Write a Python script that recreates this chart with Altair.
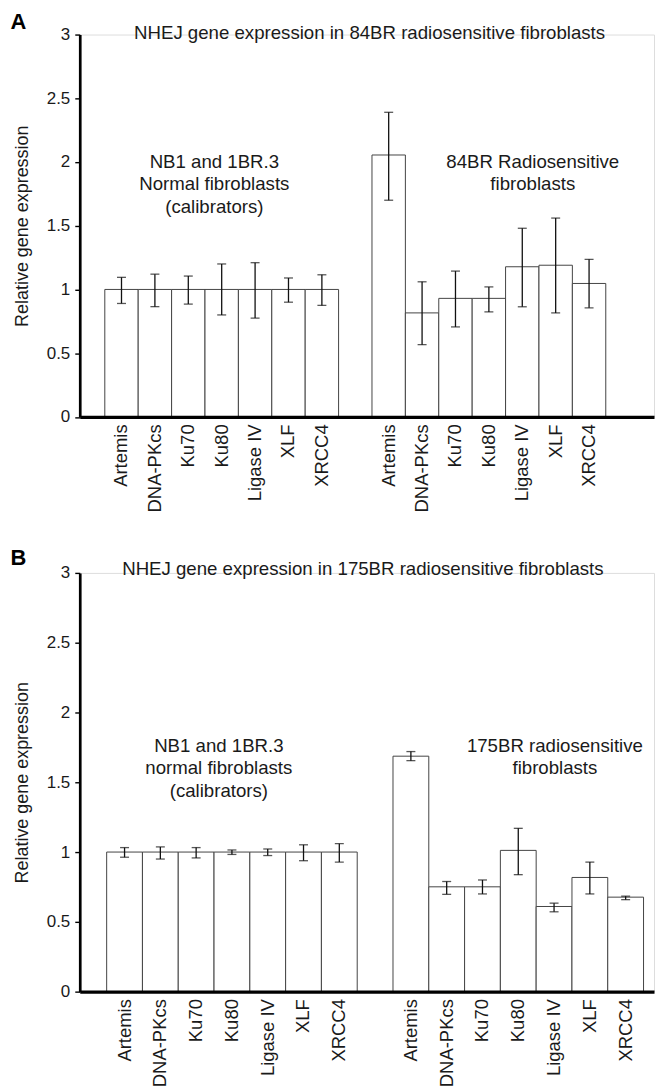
import altair as alt
import pandas as pd

genes = ["Artemis", "DNA-PKcs", "Ku70", "Ku80", "Ligase IV", "XLF", "XRCC4"]
y_ticks = [0, 0.5, 1, 1.5, 2, 2.5, 3]

# Panel A: 84BR
a_norm_val = [1.0, 1.0, 1.0, 1.0, 1.0, 1.0, 1.0]
a_norm_hi = [1.095, 1.12, 1.105, 1.20, 1.21, 1.09, 1.115]
a_norm_lo = [0.89, 0.865, 0.885, 0.80, 0.775, 0.90, 0.875]
a_rs_val = [2.055, 0.816, 0.93, 0.93, 1.178, 1.19, 1.047]
a_rs_hi = [2.39, 1.06, 1.144, 1.02, 1.48, 1.56, 1.236]
a_rs_lo = [1.70, 0.567, 0.706, 0.824, 0.864, 0.816, 0.856]

# Panel B: 175BR
b_norm_val = [1.0, 1.0, 1.0, 1.0, 1.0, 1.0, 1.0]
b_norm_hi = [1.032, 1.037, 1.032, 1.015, 1.022, 1.052, 1.06]
b_norm_lo = [0.963, 0.95, 0.958, 0.983, 0.975, 0.938, 0.928]
b_rs_val = [1.687, 0.751, 0.751, 1.012, 0.61, 0.818, 0.677]
b_rs_hi = [1.72, 0.789, 0.80, 1.17, 0.634, 0.928, 0.684]
b_rs_lo = [1.655, 0.697, 0.70, 0.838, 0.572, 0.70, 0.659]

a_title = "NHEJ gene expression in 84BR radiosensitive fibroblasts"
b_title = "NHEJ gene expression in 175BR radiosensitive fibroblasts"
a_left_note = ["NB1 and 1BR.3", "Normal fibroblasts", "(calibrators)"]
a_left_y = [2.0, 1.825, 1.65]
a_right_note = ["84BR Radiosensitive", "fibroblasts"]
a_right_y = [2.0, 1.825]
b_left_note = ["NB1 and 1BR.3", "normal fibroblasts", "(calibrators)"]
b_left_y = [1.76, 1.60, 1.44]
b_right_note = ["175BR radiosensitive", "fibroblasts"]
b_right_y = [1.76, 1.60]

FONT = "Liberation Sans"
TXT = "#1a1a1a"
YTITLE = "Relative gene expression"

keys_b = [g + "|n" for g in genes] + ["|gap"] + [g + "|r" for g in genes]
keys_a = keys_b + ["|end"]


def panel(letter, title, nv, nh, nl, rv, rh, rl, lnote, ly, rnote, ry,
          keys, width, height, pad_outer, align, letter_xy, title_xy, lx, rx):
    df = pd.DataFrame({
        "key": [g + "|n" for g in genes] + [g + "|r" for g in genes],
        "val": nv + rv,
        "hi": nh + rh,
        "lo": nl + rl,
    })
    xscale = alt.Scale(domain=keys, paddingInner=0, paddingOuter=pad_outer, align=align)
    yscale = alt.Scale(domain=[0, 3], nice=False, zero=True)
    xaxis = alt.Axis(title=None, ticks=False, labelAngle=270,
                     labelExpr="split(datum.value, '|')[0]",
                     labelFont=FONT, labelFontSize=18.5, labelColor=TXT,
                     labelPadding=7, labelOverlap=False, labelLimit=300,
                     domainColor="#000000", domainWidth=3.3, zindex=2)
    yaxis = alt.Axis(values=y_ticks, format="~g", grid=False,
                     title=YTITLE, titleFont=FONT, titleFontSize=18,
                     titleFontWeight="normal", titleColor=TXT,
                     titleX=-57, titleY=height / 2, titleAngle=270,
                     titleAlign="center", titleBaseline="middle",
                     labelFont=FONT, labelFontSize=17, labelColor=TXT,
                     labelPadding=5, tickSize=5, tickColor="#000000",
                     tickWidth=1.4, domainColor="#000000", domainWidth=2.7,
                     zindex=2)
    base = alt.Chart(df)
    X = alt.X("key:N", scale=xscale, axis=xaxis)
    bars = base.mark_bar(fill="white", stroke="#444444", strokeWidth=1).encode(
        x=X, y=alt.Y("val:Q", scale=yscale, axis=yaxis, title=YTITLE))
    err = base.mark_rule(color="#111111", strokeWidth=1.3).encode(
        x=X, y=alt.Y("lo:Q", scale=yscale, title=YTITLE), y2="hi:Q")
    cap_hi = base.mark_tick(color="#111111", thickness=1.3, size=9).encode(
        x=X, y=alt.Y("hi:Q", scale=yscale, title=YTITLE))
    cap_lo = base.mark_tick(color="#111111", thickness=1.3, size=9).encode(
        x=X, y=alt.Y("lo:Q", scale=yscale, title=YTITLE))

    def note(lines, ys, xpx):
        d = pd.DataFrame({"t": lines, "val": ys})
        return alt.Chart(d).mark_text(font=FONT, fontSize=18.7, color=TXT,
                                      align="center", baseline="middle").encode(
            x=alt.value(xpx), y=alt.Y("val:Q", scale=yscale, title=YTITLE), text="t:N")

    tdf = pd.DataFrame({"t": [title]})
    ttl = alt.Chart(tdf).mark_text(font=FONT, fontSize=18.7, color=TXT,
                                   align="center", baseline="middle").encode(
        x=alt.value(title_xy[0]), y=alt.value(title_xy[1]), text="t:N")
    ldf = pd.DataFrame({"t": [letter]})
    let = alt.Chart(ldf).mark_text(font=FONT, fontSize=22, fontWeight="bold",
                                   color="#000000", align="center",
                                   baseline="middle").encode(
        x=alt.value(letter_xy[0]), y=alt.value(letter_xy[1]), text="t:N")

    return alt.layer(bars, err, cap_hi, cap_lo,
                     note(lnote, ly, lx), note(rnote, ry, rx), ttl, let).properties(
        width=width, height=height)


pa = panel("A", a_title, a_norm_val, a_norm_hi, a_norm_lo, a_rs_val, a_rs_hi, a_rs_lo,
           a_left_note, a_left_y, a_right_note, a_right_y,
           keys_a, 576, 383.5, 0.597, 0.628, (-61.5, -13), (290.7, -2), 135, 454.4)
pb = panel("B", b_title, b_norm_val, b_norm_hi, b_norm_lo, b_rs_val, b_rs_hi, b_rs_lo,
           b_left_note, b_left_y, b_right_note, b_right_y,
           keys_b, 576, 420, 0.522, 0.72, (-61.5, -15), (284, -3.7), 139.5, 476.6)

chart = alt.vconcat(pa, pb, spacing=156, bounds="flush").properties(
    padding={"left": 10, "top": 8, "right": 0, "bottom": 0}
).configure_view(strokeWidth=0).configure(background="white")

chart.save("out.html", embed_options={"renderer": "svg", "actions": False})
